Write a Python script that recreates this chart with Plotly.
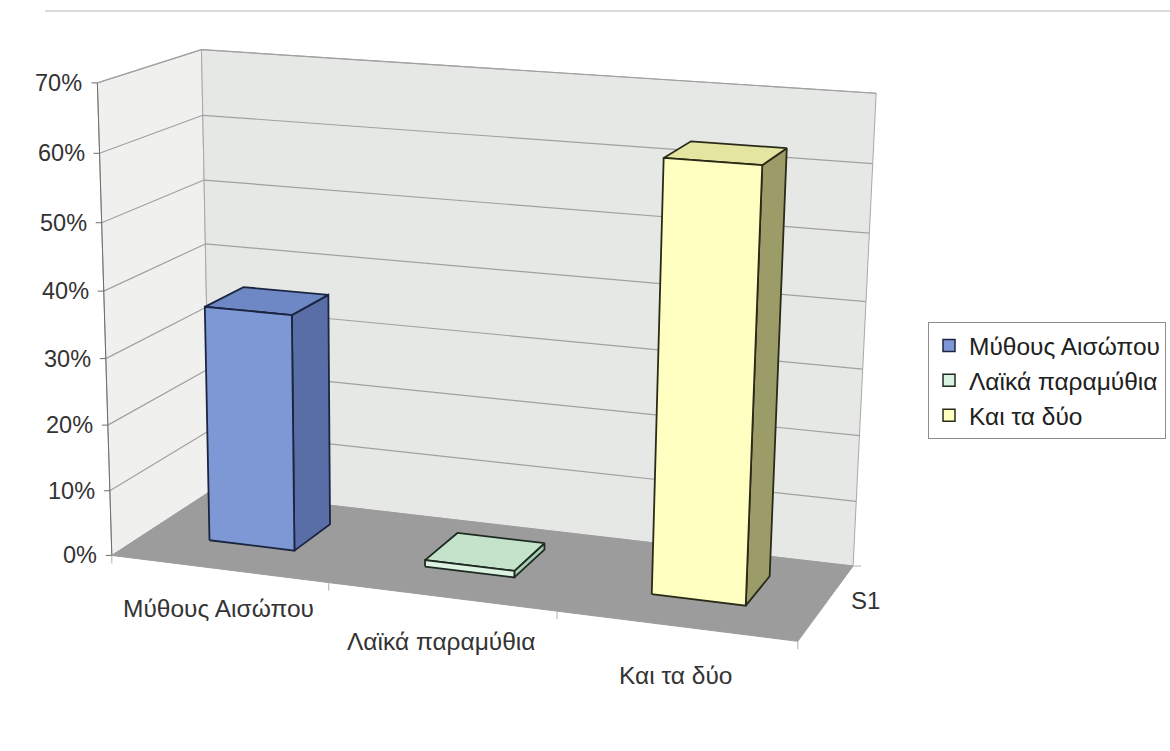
import numpy as np
import plotly.graph_objects as go

# ---- data -------------------------------------------------------------
categories = ["Μύθους Αισώπου", "Λαϊκά παραμύθια", "Και τα δύο"]
values = [0.36, 0.01, 0.63]
series_name = "S1"
tick_values = [0.0, 0.1, 0.2, 0.3, 0.4, 0.5, 0.6, 0.7]
tick_labels = ["0%", "10%", "20%", "30%", "40%", "50%", "60%", "70%"]

# ---- styling ------------------------------------------------------------
V_MAX = 0.7
FONT = "Liberation Sans, Arial, sans-serif"
TEXT = "#333333"
front_colors = ["#7e98d6", "#dcf3e2", "#ffffc2"]
top_colors = ["#6e88c6", "#c3e4ca", "#e3e5a0"]
side_colors = ["#596ea6", "#a9cdb2", "#9c9c68"]
edge_colors = ["#1c2540", "#1e2a22", "#2a2a18"]
legend_colors = ["#7e98d6", "#d9f1df", "#ffffc0"]

# ---- 3-D frame -> screen projection ------------------------------------
# frame: u across categories (0..1), w depth (0 front .. 1 back), v = value / V_MAX
frame_world = [(0, 0, 0), (0, 0, 1), (0, 1, 0), (0, 1, 1),
               (1, 1, 0), (1, 1, 1), (1, 0, 0)]
frame_screen = [(112, 550), (97, 84), (210, 497), (202, 48),
                (853, 561), (876, 94), (798, 646)]

S = 1000.0
rows = []
for (u, w, v), (x, y) in zip(frame_world, frame_screen):
    X = [u, w, v, 1.0]
    xs, ys = x / S, y / S
    rows.append(X + [0, 0, 0, 0] + [-xs * c for c in X])
    rows.append([0, 0, 0, 0] + X + [-ys * c for c in X])
_, _, vt = np.linalg.svd(np.array(rows, dtype=float))
P = vt[-1].reshape(3, 4)
_, _, vtp = np.linalg.svd(P)
cam = vtp[-1]
cam = cam[:3] / cam[3]


def proj(u, w, val):
    p = P @ np.array([u, w, val / V_MAX, 1.0])
    return p[0] / p[2] * S, p[1] / p[2] * S


def poly(pts, fill, line="rgba(0,0,0,0)", width=0):
    xy = [proj(*p) for p in pts]
    xs = [q[0] for q in xy] + [xy[0][0]]
    ys = [q[1] for q in xy] + [xy[0][1]]
    return go.Scatter(x=xs, y=ys, mode="lines", fill="toself", fillcolor=fill,
                      line=dict(color=line, width=width), hoverinfo="skip",
                      showlegend=False)


def segs(pairs, color, width):
    xs, ys = [], []
    for a, b in pairs:
        xs += [a[0], b[0], None]
        ys += [a[1], b[1], None]
    return go.Scatter(x=xs, y=ys, mode="lines", line=dict(color=color, width=width),
                      hoverinfo="skip", showlegend=False)


fig = go.Figure()

# walls and floor
fig.add_trace(poly([(0, 0, 0), (0, 1, 0), (0, 1, V_MAX), (0, 0, V_MAX)],
                   "#f0f1ef", "#a8a8a8", 1))
fig.add_trace(poly([(0, 1, 0), (1, 1, 0), (1, 1, V_MAX), (0, 1, V_MAX)],
                   "#e6e8e5", "#a8a8a8", 1))
fig.add_trace(poly([(0, 0, 0), (1, 0, 0), (1, 1, 0), (0, 1, 0)],
                   "#9c9c9c", "#9c9c9c", 1))

# gridlines on the walls
grid = []
for t in tick_values[1:]:
    grid.append((proj(0, 0, t), proj(0, 1, t)))
    grid.append((proj(0, 1, t), proj(1, 1, t)))
fig.add_trace(segs(grid, "#a0a0a0", 1.2))

# value axis line and tick marks
axis = [(proj(0, 0, 0), proj(0, 0, V_MAX))]
for t in tick_values:
    x0, y0 = proj(0, 0, t)
    axis.append(((x0 - 6, y0), (x0, y0)))
fig.add_trace(segs(axis, "#6e6e6e", 1))

# category tick marks on the front edge of the floor
cat_ticks = []
n = len(categories)
for k in range(n + 1):
    x0, y0 = proj(k / n, 0, 0)
    cat_ticks.append(((x0, y0), (x0, y0 + 8)))
x0, y0 = proj(1, 1, 0)
cat_ticks.append(((x0, y0), (x0 + 8, y0)))
fig.add_trace(segs(cat_ticks, "#b0b0b0", 1))

# bars as boxes; only faces turned toward the viewer are drawn
BAR_W = 0.4
W0, W1 = 0.34, 0.74
for i, val in enumerate(values):
    u0 = (i + 0.5 - BAR_W / 2) / n
    u1 = (i + 0.5 + BAR_W / 2) / n
    v0, v1 = 0.0, val
    faces = [
        # (points, outward normal, point on face, colour)
        ([(u1, W0, v0), (u1, W1, v0), (u1, W1, v1), (u1, W0, v1)], (1, 0, 0), (u1, 0.5, 0), side_colors[i]),
        ([(u0, W0, v0), (u0, W1, v0), (u0, W1, v1), (u0, W0, v1)], (-1, 0, 0), (u0, 0.5, 0), side_colors[i]),
        ([(u0, W0, v1), (u1, W0, v1), (u1, W1, v1), (u0, W1, v1)], (0, 0, 1), (u0, 0.5, v1 / V_MAX), top_colors[i]),
        ([(u0, W0, v0), (u1, W0, v0), (u1, W0, v1), (u0, W0, v1)], (0, -1, 0), (u0, W0, 0), front_colors[i]),
    ]
    for pts, nrm, p0, col in faces:
        d = np.array(cam) - np.array(p0)
        if np.dot(nrm, d) > 0:
            fig.add_trace(poly(pts, col, edge_colors[i], 1.8))

# legend entries
for name, col, ec in zip(categories, legend_colors, edge_colors):
    fig.add_trace(go.Bar(x=[None], y=[None], name=name,
                         marker=dict(color=col, line=dict(color=ec, width=1.5))))

annotations = []
for t, lab in zip(tick_values, tick_labels):
    x0, y0 = proj(0, 0, t)
    annotations.append(dict(x=x0 - 13, y=y0, text=lab, xanchor="right", yanchor="middle",
                            showarrow=False, font=dict(family=FONT, size=23.5, color=TEXT)))
for k, lab in enumerate(categories):
    x0, y0 = proj((k + 0.5) / n, 0, 0)
    annotations.append(dict(x=x0, y=y0 + 40 + 4.5 * k, text=lab, xanchor="center", yanchor="middle",
                            showarrow=False, font=dict(family=FONT, size=24.5, color=TEXT)))
xa, ya = proj(1, 0, 0)
xb, yb = proj(1, 1, 0)
annotations.append(dict(x=(xa + xb) / 2 + 40, y=(ya + yb) / 2 - 3, text=series_name,
                        xanchor="center", yanchor="middle", showarrow=False,
                        font=dict(family=FONT, size=24, color=TEXT)))

fig.update_layout(
    width=1170, height=751,
    margin=dict(l=0, r=0, t=0, b=0),
    paper_bgcolor="white", plot_bgcolor="white",
    xaxis=dict(range=[0, 1170], visible=False, fixedrange=True),
    yaxis=dict(range=[751, 0], visible=False, fixedrange=True),
    showlegend=True,
    legend=dict(x=928 / 1170, y=1 - 322 / 751, xanchor="left", yanchor="top",
                bgcolor="white", bordercolor="#8c8c8c", borderwidth=1,
                font=dict(family=FONT, size=24.5, color="#202020"),
                itemwidth=30, itemclick=False, itemdoubleclick=False),
    annotations=annotations,
    shapes=[dict(type="line", xref="paper", yref="paper", x0=45 / 1170, x1=1,
                 y0=1 - 11 / 751, y1=1 - 11 / 751, line=dict(color="#cfcfcf", width=1.5))],
)

fig.write_html("out.html")
